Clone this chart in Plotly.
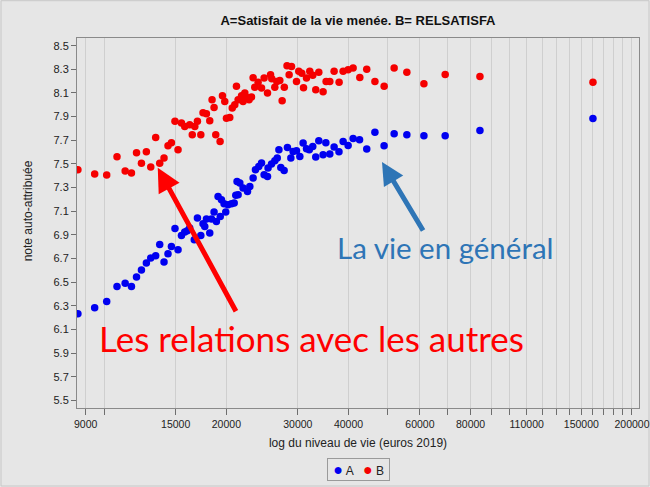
import plotly.graph_objects as go

# Série A : "Satisfait de la vie menée" (bleu)
income_A = [8610, 9470, 10140, 10750, 11260, 11670, 12010, 12350, 12700, 13020,
            13390, 13700, 14040, 14360, 14640, 14940, 15200, 15500, 15790, 16020,
            16240, 16670, 16970, 17300, 17520, 17690, 17860, 18200, 18380, 18650,
            18900, 19080, 19320, 19450, 19740, 19930, 20190, 20590, 20910, 21100,
            21250, 21380, 21590, 21990, 22550, 22850, 23280, 23590, 24040, 24420,
            24780, 25260, 25340, 25840, 26330, 26700, 26950, 27240, 27760, 28290,
            28840, 29210, 29780, 30350, 30920, 31520, 32020, 32660, 33220, 33800,
            34630, 35180, 35980, 36870, 37900, 38800, 39920, 41070, 42600, 44370,
            46480, 48960, 51840, 55720, 61380, 69260, 84370, 160240]
note_A = [6.233, 6.283, 6.337, 6.464, 6.492, 6.464, 6.543, 6.602, 6.662, 6.704,
          6.723, 6.819, 6.670, 6.740, 6.802, 6.954, 6.774, 6.895, 6.924, 6.935,
          6.958, 6.859, 7.042, 6.895, 6.994, 6.971, 7.034, 6.915, 7.034, 7.093,
          7.014, 7.225, 7.056, 7.197, 7.163, 7.093, 7.155, 7.163, 7.169, 7.235,
          7.352, 7.239, 7.338, 7.296, 7.267, 7.310, 7.381, 7.451, 7.479, 7.508,
          7.409, 7.394, 7.465, 7.499, 7.527, 7.550, 7.620, 7.470, 7.445, 7.640,
          7.550, 7.606, 7.612, 7.563, 7.677, 7.629, 7.620, 7.648, 7.558, 7.696,
          7.578, 7.679, 7.585, 7.643, 7.602, 7.690, 7.656, 7.716, 7.705, 7.627,
          7.768, 7.654, 7.756, 7.747, 7.739, 7.739, 7.783, 7.885]

# Série B : RELSATISFA (rouge)
income_B = [8610, 9470, 10140, 10750, 11260, 11670, 12010, 12350, 12700, 13020,
            13390, 13700, 14040, 14360, 14640, 14940, 15200, 15500, 15790, 16240,
            16480, 16720, 16970, 17300, 17520, 17860, 18200, 18440, 18650, 18830,
            19300, 19560, 19820, 20010, 20390, 20680, 20980, 21180, 21380, 21800,
            21990, 22210, 22420, 22750, 23070, 23280, 23500, 23950, 24420, 24780,
            25260, 25700, 25880, 26330, 26630, 27090, 27450, 27790, 28220, 28560,
            28950, 29780, 30170, 30690, 30990, 31520, 32110, 32660, 33220, 33800,
            34630, 35230, 35980, 36870, 37930, 38800, 39920, 41070, 42660, 44370,
            46480, 48980, 51840, 55720, 61380, 69260, 84370, 160240]
note_B = [7.451, 7.415, 7.406, 7.561, 7.440, 7.423, 7.595, 7.506, 7.603, 7.474,
          7.724, 7.506, 7.550, 7.654, 7.679, 7.861, 7.620, 7.846, 7.817, 7.832,
          7.747, 7.817, 7.860, 7.747, 7.933, 7.925, 7.865, 8.043, 7.978, 7.747,
          7.690, 8.077, 8.029, 7.887, 7.893, 7.973, 8.001, 8.156, 8.043, 8.077,
          8.029, 8.100, 8.064, 8.043, 8.066, 8.229, 8.149, 8.191, 8.142, 8.227,
          8.100, 8.255, 8.221, 8.149, 8.198, 8.206, 8.035, 8.149, 8.331, 8.255,
          8.325, 8.198, 8.283, 8.267, 8.145, 8.227, 8.283, 8.250, 8.128, 8.276,
          8.111, 8.198, 8.198, 8.283, 8.190, 8.283, 8.297, 8.311, 8.232, 8.301,
          8.198, 8.156, 8.311, 8.276, 8.179, 8.257, 8.240, 8.190]

x_tickvals = [9000, 10000, 15000, 20000, 30000, 40000, 50000, 60000, 70000, 80000,
              90000, 100000, 110000, 120000, 130000, 140000, 150000, 160000,
              170000, 180000, 190000, 200000]
x_labeled = {9000, 15000, 20000, 30000, 40000, 60000, 80000, 110000, 150000, 200000}
x_ticktext = [str(v) if v in x_labeled else "" for v in x_tickvals]
y_tickvals = [5.5, 5.7, 5.9, 6.1, 6.3, 6.5, 6.7, 6.9, 7.1, 7.3, 7.5, 7.7, 7.9, 8.1, 8.3, 8.5]

BG = "#E6E6E6"
FONT = "Liberation Sans, Arial, sans-serif"
COL_A = "rgb(0,0,240)"
COL_B = "rgb(245,0,0)"

fig = go.Figure()
fig.add_trace(go.Scatter(x=income_A, y=note_A, mode="markers", name="A",
                         marker=dict(color=COL_A, size=7.5)))
fig.add_trace(go.Scatter(x=income_B, y=note_B, mode="markers", name="B",
                         marker=dict(color=COL_B, size=7.5)))

fig.update_layout(
    width=650, height=487,
    margin=dict(l=77, r=11, t=38, b=79, autoexpand=False),
    paper_bgcolor=BG, plot_bgcolor=BG,
    font=dict(family=FONT, size=11, color="#222"),
    title=dict(text="<b>A=Satisfait de la vie menée. B= RELSATISFA</b>",
               x=0.5, xref="paper", y=1 - 20 / 487, yref="container",
               xanchor="center", yanchor="middle",
               font=dict(family=FONT, size=13, color="#111")),
    xaxis=dict(type="log", range=[3.9328, 5.3183], automargin=False,
               tickvals=x_tickvals, ticktext=x_ticktext,
               ticks="outside", ticklen=6, tickcolor="#6E6E6E",
               ticklabeloverflow="allow",
               showgrid=True, gridcolor="#CFCFCF", gridwidth=1,
               showline=True, linecolor="#8A8A8A", mirror=True,
               zeroline=False, tickfont=dict(size=10.5, color="#222"),
               title=dict(text="log du niveau de vie (euros 2019)",
                          font=dict(size=12, color="#222"), standoff=10)),
    yaxis=dict(range=[5.436, 8.565], tickvals=y_tickvals, automargin=False,
               ticktext=[f"{v:.1f}" for v in y_tickvals],
               ticks="outside", ticklen=5, tickcolor="#6E6E6E",
               showgrid=False, zeroline=False,
               showline=True, linecolor="#8A8A8A", mirror=True,
               tickfont=dict(size=11, color="#222")),
    showlegend=False,
)

# y-axis title
fig.add_annotation(text="note auto-attribuée", textangle=-90, showarrow=False,
                   xref="paper", yref="paper", x=-0.088, y=0.533,
                   xanchor="center", yanchor="middle",
                   font=dict(family=FONT, size=12, color="#222"))

# legend box
fig.add_annotation(text=f"&nbsp;<span style='color:{COL_A};font-size:16px'>●</span> A &nbsp;&nbsp;"
                        f"<span style='color:{COL_B};font-size:16px'>●</span> B&nbsp;",
                   showarrow=False, xref="paper", yref="paper",
                   x=0.5, y=-0.165, xanchor="center", yanchor="middle",
                   bordercolor="#9A9A9A", borderwidth=1, borderpad=2,
                   bgcolor=BG, font=dict(family=FONT, size=12, color="#222"))

# arrows
fig.add_annotation(text="", xref="paper", yref="paper", x=0.1437, y=0.6495,
                   ax=79, ay=145, showarrow=True, arrowhead=2, arrowsize=0.95,
                   arrowwidth=5, arrowcolor="#FF0000", standoff=0)
fig.add_annotation(text="", xref="paper", yref="paper", x=0.5427, y=0.6649,
                   ax=42, ay=70, showarrow=True, arrowhead=2, arrowsize=0.9,
                   arrowwidth=5, arrowcolor="#2E75B6", standoff=0)

# labels
fig.add_annotation(text="Les relations avec les autres", showarrow=False,
                   xref="paper", yref="paper", x=0.418, y=0.189,
                   xanchor="center", yanchor="middle",
                   font=dict(family="Lato, Open Sans, sans-serif", size=35, color="#FF0000"))
fig.add_annotation(text="La vie en général", showarrow=False,
                   xref="paper", yref="paper", x=0.655, y=0.435,
                   xanchor="center", yanchor="middle",
                   font=dict(family="Lato, Open Sans, sans-serif", size=29.5, color="#2E75B6"))

# outer frame of the image
fig.add_shape(type="rect", xref="paper", yref="paper",
              x0=-0.1352, x1=1.0178, y0=-0.2108, y1=1.1008,
              line=dict(color="#C8C8C8", width=1), layer="below")

fig.write_html("out.html", config={"displayModeBar": False},
               post_script="document.body.style.margin='0';document.body.style.padding='0';")
